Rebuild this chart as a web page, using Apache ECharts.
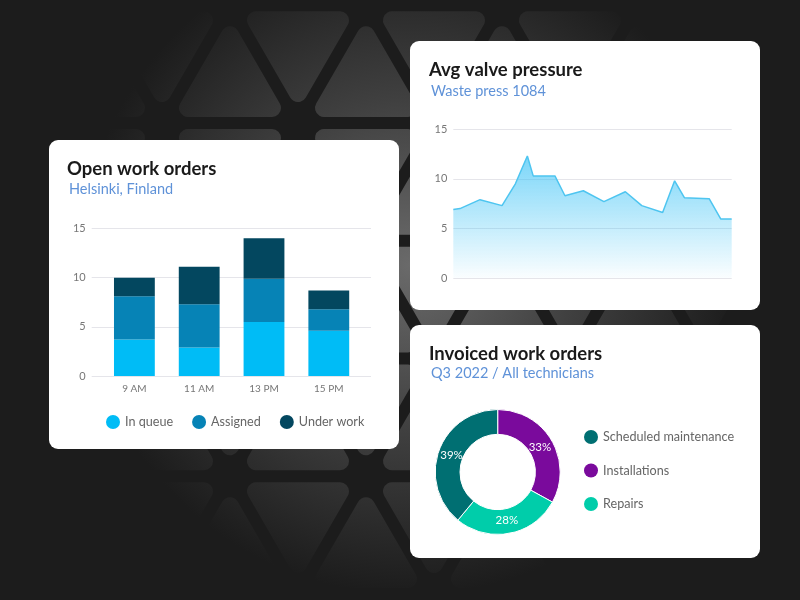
<!DOCTYPE html>
<html>
<head>
<meta charset="utf-8">
<title>Work orders</title>
<script src="https://cdn.jsdelivr.net/npm/echarts@6/dist/echarts.min.js"></script>
<style>
    html, body {margin: 0; padding: 0; background: #1c1c1c;}
    #backdrop, #chart {position: absolute; left: 0; top: 0; width: 800px; height: 600px;}
</style>
</head>
<body>
<svg id="backdrop" xmlns="http://www.w3.org/2000/svg" width="800" height="600">
    <defs>
        <radialGradient id="glow" gradientUnits="userSpaceOnUse" cx="410" cy="265" r="330">
            <stop offset="0" stop-color="#6a6a6a"/>
            <stop offset="0.5" stop-color="#404040"/>
            <stop offset="1" stop-color="#1c1c1c"/>
        </radialGradient>
    </defs>
    <g id="tiles" fill="url(#glow)" stroke="url(#glow)" stroke-width="18" stroke-linejoin="round"></g>
    <rect x="49" y="140" width="350" height="309" rx="9" fill="#fff"/>
    <rect x="410" y="41" width="350" height="269" rx="9" fill="#fff"/>
    <rect x="410" y="325" width="350" height="233" rx="9" fill="#fff"/>
</svg>
<div id="chart"></div>
<script>
// 工单柱状图
var hours = ['9 AM', '11 AM', '13 PM', '15 PM'];
var inQueue = [3.7, 2.9, 5.5, 4.6];
var assigned = [4.4, 4.4, 4.4, 2.2];
var underWork = [1.9, 3.8, 4.1, 1.9];

// 阀门压力面积图
var pressureX = [0, 2.4, 9.6, 17.5, 22.3, 26.6, 28.7, 36.5, 40.1, 46.7, 54.1, 61.8, 67.7, 75.2, 79.5, 83, 91.9, 96.1, 100];
var pressureY = [6.9, 7.0, 7.9, 7.3, 9.5, 12.3, 10.3, 10.3, 8.3, 8.8, 7.7, 8.7, 7.3, 6.6, 9.8, 8.1, 8.0, 5.95, 5.95];

// 环形图
var invoicedNames = ['Installations', 'Repairs', 'Scheduled maintenance'];
var invoicedValues = [33, 28, 39];
var invoicedLegend = ['Scheduled maintenance', 'Installations', 'Repairs'];

var yTicks = {min: 0, max: 15, interval: 5};
var pieCenter = [497.7, 472];

// 背景的三角形,纯装饰
function drawTiles() {
    var side = 136, rowH = 117.75, inner = 84, innerH = inner * 0.866;
    var html = '';
    for (var row = -1; row < 6; row++) {
        var lineY = 5.25 + row * rowH;
        for (var col = -1; col < 8; col++) {
            var shift = row % 2 === 0 ? 0 : side / 2;
            var cx = 230 + (col - 1) * side + shift;
            var midY = lineY + rowH * 2 / 3;
            // 朝上
            html += '<polygon points="' + cx + ',' + (midY - innerH * 2 / 3) + ' ' + (cx - inner / 2) + ',' + (midY + innerH / 3) + ' ' + (cx + inner / 2) + ',' + (midY + innerH / 3) + '"/>';
            // 朝下
            var dx = cx + side / 2, dy = lineY + rowH / 3;
            html += '<polygon points="' + dx + ',' + (dy + innerH * 2 / 3) + ' ' + (dx - inner / 2) + ',' + (dy - innerH / 3) + ' ' + (dx + inner / 2) + ',' + (dy - innerH / 3) + '"/>';
        }
    }
    document.getElementById('tiles').innerHTML = html;
}
drawTiles();

var font = 'Lato';
var gridLine = {show: true, showMinLine: true, showMaxLine: true, lineStyle: {color: '#e5e5ea', width: 1}};
var tickLabel = {color: '#777', fontFamily: font, fontSize: 11, margin: 6};

function heading(text, left, top) {
    return {text: text, left: left, top: top, padding: 0, textStyle: {color: '#1a1a1a', fontFamily: font, fontWeight: 700, fontSize: 18.5}};
}
function subheading(text, left, top) {
    return {text: text, left: left, top: top, padding: 0, textStyle: {color: '#5f92d8', fontFamily: font, fontWeight: 400, fontSize: 14.5}};
}
function legendText() {
    return {color: '#666', fontFamily: font, fontSize: 12.6};
}

var chart = echarts.init(document.getElementById('chart'));
chart.setOption({
    animation: false,
    backgroundColor: 'transparent',
    title: [
        heading('Open work orders', 67, 160),
        subheading('Helsinki, Finland', 69, 182),
        heading('Avg valve pressure', 429, 61),
        subheading('Waste press 1084', 431, 84),
        heading('Invoiced work orders', 429, 345),
        subheading('Q3 2022 / All technicians', 431, 366)
    ],
    legend: [
        {
            data: ['In queue', 'Assigned', 'Under work'], left: 106, top: 415,
            icon: 'circle', itemWidth: 14, itemHeight: 14, itemGap: 19, padding: 0, textStyle: legendText()
        },
        {
            data: invoicedLegend, left: 584, top: 430, orient: 'vertical',
            icon: 'circle', itemWidth: 14, itemHeight: 14, itemGap: 19.5, padding: 0, textStyle: legendText(),
            itemStyle: {borderWidth: 0}
        }
    ],
    grid: [
        {left: 91.7, top: 228.5, width: 279.3, height: 147.5},
        {left: 102, top: 228.5, width: 259.2, height: 147.5},
        {left: 453.3, top: 129.3, width: 278.4, height: 148.7}
    ],
    xAxis: [
        {gridIndex: 0, type: 'value', min: 0, max: 1, show: false},
        {
            gridIndex: 1, type: 'category', data: hours,
            axisLine: {show: false}, axisTick: {show: false},
            axisLabel: {color: '#777', fontFamily: font, fontSize: 10, margin: 8}
        },
        {gridIndex: 2, type: 'value', min: 0, max: 100, show: false}
    ],
    yAxis: [
        {
            gridIndex: 0, type: 'value', min: yTicks.min, max: yTicks.max, interval: yTicks.interval,
            axisLine: {show: false}, axisTick: {show: false}, axisLabel: tickLabel, splitLine: gridLine
        },
        {gridIndex: 1, type: 'value', min: yTicks.min, max: yTicks.max, interval: yTicks.interval, show: false},
        {
            gridIndex: 2, type: 'value', min: yTicks.min, max: yTicks.max, interval: yTicks.interval,
            axisLine: {show: false}, axisTick: {show: false}, axisLabel: tickLabel, splitLine: gridLine
        }
    ],
    series: [
        {name: 'In queue', type: 'bar', stack: 'orders', xAxisIndex: 1, yAxisIndex: 1, barWidth: '63%', data: inQueue, itemStyle: {color: '#00bcf6'}},
        {name: 'Assigned', type: 'bar', stack: 'orders', xAxisIndex: 1, yAxisIndex: 1, barWidth: '63%', data: assigned, itemStyle: {color: '#0683b6'}},
        {name: 'Under work', type: 'bar', stack: 'orders', xAxisIndex: 1, yAxisIndex: 1, barWidth: '63%', data: underWork, itemStyle: {color: '#03475f'}},
        {
            name: 'Pressure', type: 'line', xAxisIndex: 2, yAxisIndex: 2, symbol: 'none',
            data: pressureX.map(function(x, i) { return [x, pressureY[i]]; }),
            lineStyle: {color: '#4ec5f0', width: 1.5},
            areaStyle: {
                color: new echarts.graphic.LinearGradient(0, 0, 0, 1, [
                    {offset: 0, color: 'rgba(45, 190, 245, 0.9)'},
                    {offset: 1, color: 'rgba(45, 190, 245, 0.03)'}
                ])
            }
        },
        {
            name: 'Invoiced', type: 'pie', center: pieCenter, radius: [37.7, 62.5], startAngle: 90,
            data: invoicedNames.map(function(name, i) { return {name: name, value: invoicedValues[i]}; }),
            color: ['#7a0a9c', '#00cdaa', '#006f72'],
            itemStyle: {borderColor: '#fff', borderWidth: 1},
            label: {position: 'inside', formatter: '{c}%', color: '#fff', fontFamily: font, fontSize: 11.5},
            labelLine: {show: false},
            // 标签往环中间收一点
            labelLayout: function(params) {
                var r = params.labelRect;
                var ox = r.x + r.width / 2 - pieCenter[0], oy = r.y + r.height / 2 - pieCenter[1];
                var len = Math.sqrt(ox * ox + oy * oy);
                return {dx: -4 * ox / len, dy: -4 * oy / len};
            }
        }
    ]
});
</script>
</body>
</html>
